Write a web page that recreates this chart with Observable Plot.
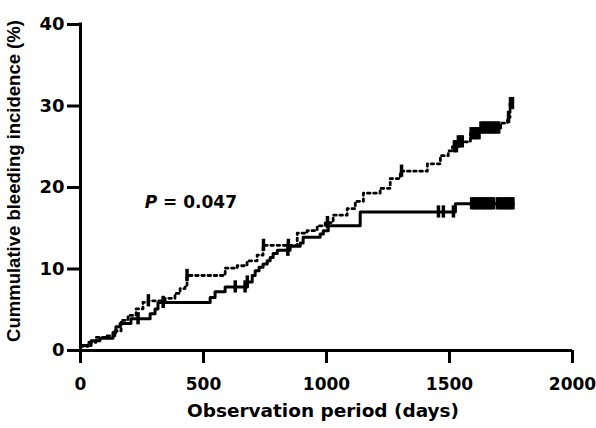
<!DOCTYPE html>
<html><head><meta charset="utf-8">
<script src="https://cdn.jsdelivr.net/npm/d3@7"></script>
<script src="https://cdn.jsdelivr.net/npm/@observablehq/plot@0.6"></script>
<style>
body{margin:0;background:#fff}
#chart{position:relative;width:596px;height:428px}
</style>
</head><body><div id="chart"></div>
<script>
// Solid curve (step-after): times in days, cumulative incidence in %
const solidT = [0, 43, 79, 132, 144, 161, 205, 283, 303, 315, 527, 547, 588, 678, 698, 710, 726, 742, 759, 771, 783, 800, 852, 893, 905, 974, 987, 1007, 1137, 1524, 1760];
const solidY = [0.6, 1.2, 1.5, 2.2, 2.9, 3.3, 3.9, 4.5, 5.1, 5.9, 6.5, 7.2, 7.8, 8.4, 9.2, 9.8, 10.2, 10.6, 11.0, 11.4, 11.9, 12.3, 12.8, 13.2, 13.9, 14.3, 14.7, 15.3, 17.0, 18.0, 18.0];
const solidCensor = [234, 336, 629, 669, 678, 843, 1455, 1475, 1516, 1590, 1598, 1606, 1614, 1622, 1630, 1638, 1646, 1654, 1662, 1670, 1678, 1694, 1702, 1710, 1718, 1726, 1734, 1742, 1750, 1758];

// Dotted curve
const dottedT = [0, 30, 63, 100, 140, 165, 193, 226, 254, 275, 344, 384, 405, 425, 433, 588, 637, 677, 718, 742, 881, 921, 962, 995, 1027, 1084, 1117, 1150, 1218, 1259, 1300, 1410, 1463, 1495, 1512, 1536, 1585, 1626, 1708, 1736, 1746, 1752];
const dottedY = [0.5, 1.0, 1.6, 1.8, 2.4, 3.7, 4.3, 5.1, 5.9, 6.1, 6.4, 7.0, 7.6, 8.0, 9.2, 10.1, 10.4, 11.0, 11.7, 12.9, 14.4, 14.7, 15.3, 15.7, 16.6, 17.4, 18.3, 19.3, 19.9, 21.1, 22.0, 22.9, 23.9, 24.5, 25.0, 25.6, 26.6, 27.3, 27.9, 28.6, 30.3, 30.3];
const dottedCensor = [276, 433, 744, 845, 1004, 1305, 1520, 1528, 1536, 1544, 1552, 1588, 1596, 1604, 1612, 1620, 1628, 1636, 1644, 1652, 1660, 1668, 1676, 1684, 1692, 1700, 1740, 1748, 1756];

const xTicks = [0, 500, 1000, 1500, 2000];
const yTicks = [0, 10, 20, 30, 40];
const xTitle = "Observation period (days)";
const yTitle = "Cummulative bleeding incidence (%)";
const pLabel = "P";
const pValue = " = 0.047";

const solid = solidT.map((t, i) => ({t, y: solidY[i]}));
const dotted = dottedT.map((t, i) => ({t, y: dottedY[i]}));
const stepAt = (T, Y, x) => { let v = Y[0]; for (let i = 0; i < T.length; i++) if (T[i] <= x) v = Y[i]; return v; };
const sc = solidCensor.map(t => ({t, y: stepAt(solidT, solidY, t)}));
const dc = dottedCensor.map(t => ({t, y: stepAt(dottedT, dottedY, t)}));

const font = "'DejaVu Sans', sans-serif";
const font2 = "'Liberation Sans', Arial, sans-serif";
const plot = Plot.plot({
  width: 596, height: 428,
  marginLeft: 80, marginRight: 24, marginTop: 24, marginBottom: 78,
  style: {fontFamily: font, fontSize: "17px", fontWeight: "bold", color: "#000", background: "#fff", overflow: "visible"},
  x: {domain: [0, 2000]},
  y: {domain: [0, 40]},
  marks: [
    Plot.axisX({ticks: xTicks, tickSize: 13, tickPadding: 14, strokeWidth: 3, label: null, fontSize: 17, fontWeight: "bold", tickFormat: d => String(d)}),
    Plot.axisY({ticks: yTicks, tickSize: 13, tickPadding: 3, strokeWidth: 3, label: null, fontSize: 18, fontWeight: "bold"}),
    Plot.ruleX([0], {y1: 0, y2: 40, strokeWidth: 3, strokeLinecap: "square"}),
    Plot.ruleY([0], {x1: 0, x2: 2000, strokeWidth: 3}),
    Plot.line(dotted, {x: "t", y: "y", curve: "step-after", stroke: "#000", strokeWidth: 2.8, strokeDasharray: "2.6,3.6"}),
    Plot.line(solid, {x: "t", y: "y", curve: "step-after", stroke: "#000", strokeWidth: 3}),
    Plot.ruleX(dc, {x: "t", y1: d => d.y - 0.75, y2: d => d.y + 0.75, stroke: "#000", strokeWidth: 3.5}),
    Plot.ruleX(sc, {x: "t", y1: d => d.y - 0.75, y2: d => d.y + 0.75, stroke: "#000", strokeWidth: 3.5})
  ]
});
document.getElementById("chart").appendChild(plot);

const svg = d3.select(plot);
svg.selectAll('g[aria-label$="tick"]').attr("stroke-width", 3);
svg.selectAll('g[aria-label$="tick"] path').attr("stroke-width", 3);
const xs = plot.scale("x"), ys = plot.scale("y");
svg.append("text").attr("x", 323).attr("y", 417).attr("text-anchor", "middle")
  .attr("font-family", font).attr("font-size", 18).attr("font-weight", "bold")
  .attr("textLength", 272).attr("lengthAdjust", "spacingAndGlyphs").text(xTitle);
svg.append("text").attr("transform", "translate(20,181) rotate(-90)").attr("text-anchor", "middle")
  .attr("font-family", font2).attr("font-size", 18.5).attr("font-weight", "bold").text(yTitle);
const pt = svg.append("text").attr("x", xs.apply(263)).attr("y", ys.apply(17.4)).attr("text-anchor", "start")
  .attr("font-family", font).attr("font-size", 17).attr("font-weight", "bold");
pt.append("tspan").attr("font-style", "italic").text(pLabel);
pt.append("tspan").text(pValue);
</script>
</body></html>
